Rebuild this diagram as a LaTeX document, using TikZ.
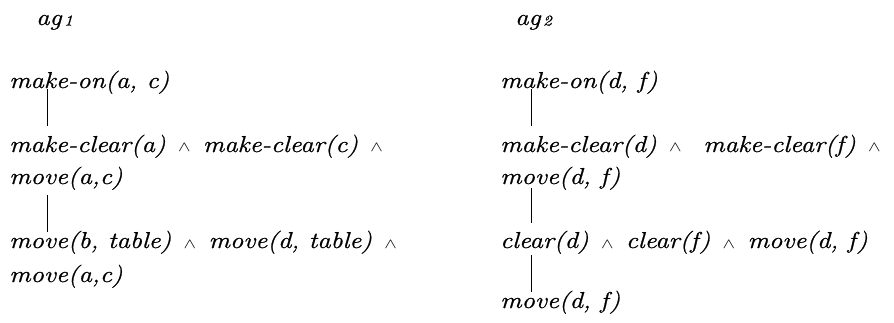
\documentclass[tikz,border=0pt]{standalone}
\usepackage{fontspec}
\setmainfont[FakeStretch=1.16,FakeBold=0.9]{Latin Modern Roman}
\begin{document}
\begin{tikzpicture}[x=1pt,y=-1pt,
  goal/.style={anchor=base west,inner sep=0pt,font=\fontsize{23}{27}\selectfont\itshape},
  link/.style={line width=0.9pt}]
\newcommand{\conj}{\hspace{0.54em}\scalebox{1.3}[1]{\fontsize{14}{15}\selectfont$\wedge$}\hspace{0.54em}}
\newcommand{\agsub}[1]{\hspace{2.5pt}\raisebox{-0.5pt}{\fontsize{15}{16}\selectfont #1}}
\useasboundingbox (0,0) rectangle (894,323);
% agent labels
\node[goal] (ag1) at (36,25) {ag\agsub{1}};
\node[goal] (ag2) at (515,25) {ag\agsub{2}};
% first agent's goal tree
\node[goal] (l1) at (9,88) {make-on(a, c)};
\node[goal] (l2) at (9,152) {make-clear(a)\conj make-clear(c)\conj};
\node[goal] (l2b) at (9,184) {move(a,c)};
\node[goal] (l3) at (9,248) {move(b, table)\conj move(d, table)\conj};
\node[goal] (l3b) at (9,282) {move(a,c)};
% second agent's goal tree
\node[goal] (r1) at (500,88) {make-on(d, f)};
\node[goal] (r2) at (500,152) {make-clear(d)\conj\ make-clear(f)\conj};
\node[goal] (r2b) at (500,184) {move(d, f)};
\node[goal] (r3) at (500,248) {clear(d)\conj clear(f)\conj move(d, f)};
\node[goal] (r4) at (500,308) {move(d, f)};
% connectors
\draw[link] ([shift={(38.5,1)}]l1.base west) -- ([shift={(38.5,-26)}]l2.base west);
\draw[link] ([shift={(38.5,11)}]l2b.base west) -- ([shift={(38.5,-16)}]l3.base west);
\draw[link] ([shift={(31,1)}]r1.base west) -- ([shift={(31,-26)}]r2.base west);
\draw[link] ([shift={(31,4)}]r2b.base west) -- ([shift={(31,-25)}]r3.base west);
\draw[link] ([shift={(31,7)}]r3.base west) -- ([shift={(31,-16)}]r4.base west);
\end{tikzpicture}
\end{document}
